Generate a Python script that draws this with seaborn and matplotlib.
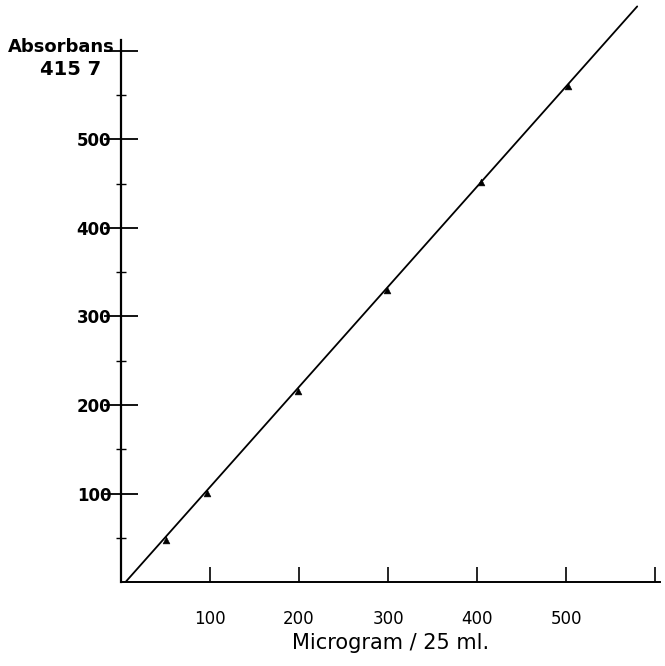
import matplotlib
matplotlib.use("Agg")
import matplotlib.pyplot as plt
import pandas as pd
import numpy as np
import seaborn as sns

# calibration points
microgram = [50, 97, 199, 299, 405, 502]
absorbans = [47, 101, 216, 330, 452, 560]

# drawn straight line
line_x = [5, 580]
line_y = [0, 650]

x_ticks = [100, 200, 300, 400, 500, 600]
x_tick_labels = ['100', '200', '300', '400', '500', '']
y_ticks = [100, 200, 300, 400, 500, 600]
y_tick_labels = ['100', '200', '300', '400', '500', '']
y_minor = [50, 150, 250, 350, 450, 550]


def main():
    sns.set_style('white')
    plt.rcParams['font.family'] = ['DejaVu Sans']
    plt.rcParams['text.color'] = 'black'
    plt.rcParams['axes.labelcolor'] = 'black'
    plt.rcParams['xtick.color'] = 'black'
    plt.rcParams['ytick.color'] = 'black'

    df = pd.DataFrame({'x': microgram, 'y': absorbans})
    fit = pd.DataFrame({'x': line_x, 'y': line_y})

    fig = plt.figure(figsize=(6.65, 6.66), dpi=100)
    ax = fig.add_axes([0.182, 0.126, 0.811, 0.871])

    sns.lineplot(data=fit, x='x', y='y', color='black', linewidth=1.3,
                 sort=False, ax=ax)
    sns.scatterplot(data=df, x='x', y='y', color='black', marker='^', s=24,
                    edgecolor='black', ax=ax, zorder=3)

    ax.set_xlim(0, 606)
    ax.set_ylim(0, 655)
    for s in ['top', 'right']:
        ax.spines[s].set_visible(False)
    ax.spines['left'].set_bounds(0, 612)
    ax.spines['left'].set_linewidth(1.6)
    ax.spines['bottom'].set_linewidth(1.4)
    ax.spines['left'].set_color('black')
    ax.spines['bottom'].set_color('black')

    ax.set_xticks(x_ticks)
    ax.set_xticklabels(x_tick_labels, fontsize=12)
    ax.set_yticks(y_ticks)
    ax.set_yticklabels(y_tick_labels, fontsize=12, fontweight='bold')
    ax.set_yticks(y_minor, minor=True)
    ax.tick_params(axis='x', direction='in', length=11, width=1.2, pad=20)
    ax.tick_params(axis='y', which='major', direction='inout', length=24,
                   width=1.3, pad=-5)
    ax.tick_params(axis='y', which='minor', direction='inout', length=7,
                   width=1.0)
    ax.tick_params(left=True, bottom=True, which='both')

    ax.set_xlabel('Microgram / 25 ml.', fontsize=15, labelpad=4)
    ax.set_ylabel('')

    fig.text(0.012, 0.93, 'Absorbans', fontsize=13, fontweight='bold',
             ha='left', va='center')
    fig.text(0.06, 0.895, '415 7', fontsize=14, fontweight='bold',
             ha='left', va='center')

    fig.savefig('out.png', dpi=100)


if __name__ == "__main__":
    main()
